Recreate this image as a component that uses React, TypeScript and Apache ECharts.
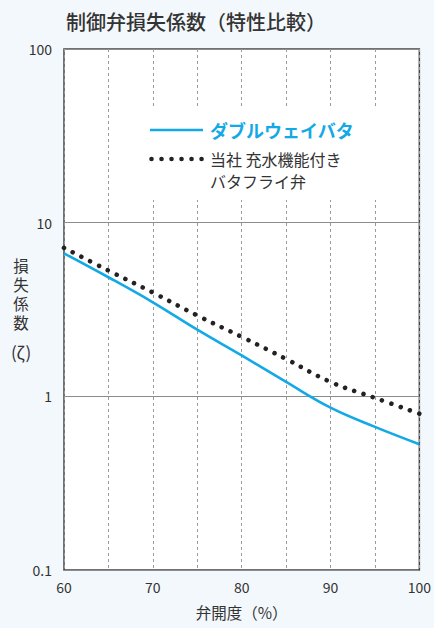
import React, { useEffect, useRef } from "react";
import * as echarts from "echarts";

const titleText = "制御弁損失係数（特性比較）";
const xAxisName = "弁開度（%）";
const yAxisNameLines = ["損", "失", "係", "数"];
const yAxisNameSymbol = "(ζ)";
const seriesNames = ["ダブルウェイバタ", "当社 充水機能付き\nバタフライ弁"];

const openingA = [60, 65, 70, 75, 80, 85, 90, 95, 100];
const doubleWayValues = [6.66, 4.85, 3.48, 2.42, 1.72, 1.21, 0.86, 0.667, 0.53];

const openingB = [60, 65, 70, 75, 80, 85, 90, 95, 100];
const ourValues = [7.16, 5.3, 3.96, 2.92, 2.2, 1.64, 1.21, 0.98, 0.795];

const FONT = '"Noto Sans CJK JP", "Noto Sans", sans-serif';
const NAME_FONT = 'Roboto, "Noto Sans CJK JP", sans-serif';
const BLUE = "#12a9e6";
const DOT = "#222222";
const TEXT = "#333333";

export default function App() {
  const ref = useRef<HTMLDivElement>(null);
  useEffect(() => {
    if (!ref.current) return;
    const chart = echarts.init(ref.current, undefined, { renderer: "svg" });
    const dotted = { type: [0.01, 9.8] as any, cap: "round" as any, width: 4.6, color: DOT };
    const yNameTexts = yAxisNameLines.map((ch, i) => ({
      type: "text",
      x: 21,
      y: 267 + i * 19,
      style: {
        text: ch,
        fill: TEXT,
        font: `15.5px ${NAME_FONT}`,
        lineHeight: 16,
        align: "center",
        verticalAlign: "middle",
      },
    }));
    chart.setOption({
      animation: false,
      backgroundColor: "#f3f8fc",
      textStyle: { fontFamily: FONT },
      title: {
        text: titleText,
        left: 61,
        top: 6,
        textStyle: { fontSize: 20, fontWeight: 500, color: TEXT, fontFamily: FONT },
      },
      grid: {
        left: 64,
        right: 13,
        top: 49,
        bottom: 58,
        show: true,
        backgroundColor: "#ffffff",
        borderColor: "#444444",
        borderWidth: 1.5,
      },
      xAxis: {
        type: "value",
        min: 60,
        max: 100,
        interval: 5,
        name: xAxisName,
        nameLocation: "middle",
        nameGap: 34,
        nameTextStyle: { fontSize: 15.5, color: TEXT, fontFamily: FONT },
        axisLine: { show: false },
        axisTick: { show: false },
        axisLabel: {
          fontSize: 14,
          color: TEXT,
          margin: 10,
          fontFamily: FONT,
          formatter: (v: number) => (v % 10 === 0 ? String(v) : ""),
        },
        splitLine: { show: true, lineStyle: { type: [3, 3], color: "#9a9a9a", width: 1 } },
      },
      yAxis: {
        type: "log",
        logBase: 10,
        min: 0.1,
        max: 100,
        axisLine: { show: false },
        axisTick: { show: false },
        axisLabel: {
          fontSize: 14,
          color: TEXT,
          margin: 12,
          fontFamily: FONT,
          formatter: (v: number) => String(v),
        },
        splitLine: { show: true, lineStyle: { color: "#8c8c8c", width: 1 } },
        minorSplitLine: { show: false },
      },
      graphic: [
        {
          type: "rect",
          shape: { x: 126, y: 108, width: 284, height: 92 },
          style: { fill: "#ffffff" },
          z: 5,
        },
        {
          type: "line",
          shape: { x1: 150, y1: 130, x2: 203, y2: 130 },
          style: { stroke: BLUE, lineWidth: 2.6 },
          z: 6,
        },
        {
          type: "text",
          x: 210,
          y: 130,
          style: {
            text: seriesNames[0],
            fill: BLUE,
            font: `bold 18px ${FONT}`,
            verticalAlign: "middle",
          },
          z: 6,
        },
        {
          type: "line",
          shape: { x1: 151.5, y1: 159, x2: 203, y2: 159 },
          style: { stroke: DOT, lineWidth: 4.6, lineDash: [0.01, 10], lineCap: "round" },
          z: 6,
        },
        {
          type: "text",
          x: 210,
          y: 148,
          style: {
            text: seriesNames[1],
            fill: TEXT,
            font: `16px ${FONT}`,
            lineHeight: 22,
            verticalAlign: "top",
          },
          z: 6,
        },
        ...yNameTexts,
        {
          type: "text",
          x: 21,
          y: 351,
          style: {
            text: yAxisNameSymbol,
            fill: TEXT,
            font: `17px ${FONT}`,
            align: "center",
            verticalAlign: "middle",
          },
        },
      ],
      series: [
        {
          name: seriesNames[0],
          type: "line",
          data: openingA.map((x, i) => [x, doubleWayValues[i]]),
          smooth: 0.4,
          showSymbol: false,
          lineStyle: { color: BLUE, width: 2.6 },
          z: 3,
        },
        {
          name: seriesNames[1],
          type: "line",
          data: openingB.map((x, i) => [x, ourValues[i]]),
          smooth: 0.4,
          showSymbol: false,
          lineStyle: dotted,
          z: 4,
        },
      ],
    });
    return () => chart.dispose();
  }, []);
  return (
    <div
      ref={ref}
      style={{ position: "fixed", left: 0, top: 0, width: 434, height: 628 }}
    />
  );
}
